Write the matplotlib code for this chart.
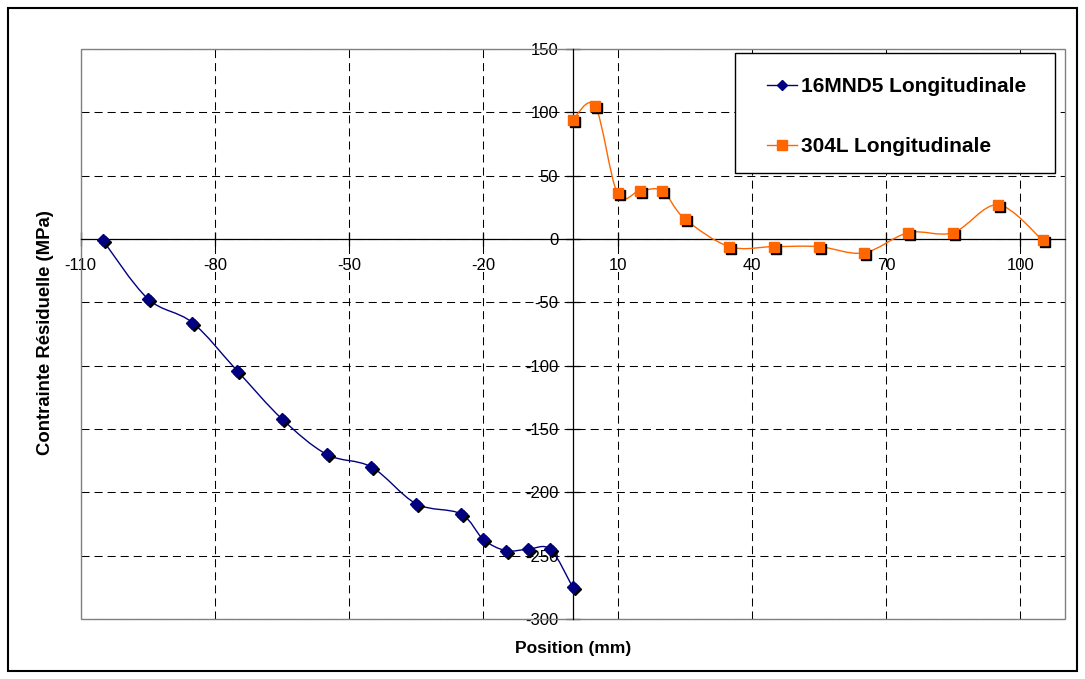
import numpy as np
import matplotlib
matplotlib.use('Agg')
import matplotlib.pyplot as plt
from matplotlib.path import Path
from matplotlib.patches import PathPatch, Rectangle
import matplotlib.transforms as mtransforms
from matplotlib.lines import Line2D

plt.rcParams['font.family'] = ['Liberation Sans', 'DejaVu Sans']
plt.rcParams['lines.scale_dashes'] = False
plt.rcParams['axes.unicode_minus'] = False

# ---- data ----
pos_16mnd5 = [-105, -95, -85, -75, -65, -55, -45, -35, -25, -20, -15, -10, -5, 0]
val_16mnd5 = [-1, -47, -66, -104, -142, -170, -180, -209, -217, -237, -246, -245, -245, -275]
pos_304l = [0, 5, 10, 15, 20, 25, 35, 45, 55, 65, 75, 85, 95, 105]
val_304l = [94, 105, 36, 38, 38, 16, -6, -6, -6, -11, 5, 5, 27, -1]
x_ticks = [-110, -80, -50, -20, 10, 40, 70, 100]
y_ticks = [-300, -250, -200, -150, -100, -50, 0, 50, 100, 150]
label_16 = '16MND5 Longitudinale'
label_304 = '304L Longitudinale'
col_16 = '#000080'
col_304 = '#FF6600'

W, H = 1085, 679


def smooth_path(x, y):
    """Excel-like smoothed line: cubic Bezier (Catmull-Rom) through the data."""
    pts = np.column_stack([x, y]).astype(float)
    n = len(pts)
    verts = [pts[0]]
    codes = [Path.MOVETO]
    for i in range(n - 1):
        p0 = pts[i - 1] if i > 0 else pts[i]
        p1 = pts[i]
        p2 = pts[i + 1]
        p3 = pts[i + 2] if i + 2 < n else pts[i + 1]
        c1 = p1 + (p2 - p0) / 6.0
        c2 = p2 - (p3 - p1) / 6.0
        verts += [c1, c2, p2]
        codes += [Path.CURVE4] * 3
    return Path(verts, codes)


def fx(px):
    return px / W


def fy(py):
    return 1 - py / H


fig = plt.figure(figsize=(W / 100, H / 100), dpi=100)
fig.patch.set_facecolor('white')
ax = fig.add_axes([fx(80.5), fy(619), (1065 - 80.5) / W, (619 - 49) / H])

ax.set_xlim(-110, 110)
ax.set_ylim(-300, 150)
ax.set_xticks(x_ticks)
ax.set_yticks(y_ticks)

# spines crossing at zero
for s in ['top', 'right']:
    ax.spines[s].set_visible(False)
ax.spines['left'].set_position(('data', 0))
ax.spines['bottom'].set_position(('data', 0))
for s in ['left', 'bottom']:
    ax.spines[s].set_color('#000000')
    ax.spines[s].set_linewidth(0.9)
    ax.spines[s].set_zorder(1.5)

ax.add_patch(Rectangle((0, 0), 1, 1, transform=ax.transAxes, fill=False,
                       edgecolor='#808080', lw=1.0, zorder=1.4, clip_on=False))

ax.tick_params(axis='both', direction='inout', length=10, width=0.9, color='#000000',
               labelsize=12)
ax.tick_params(axis='y', pad=5.5)
ax.tick_params(axis='x', pad=9)

ax.grid(True, color='#000000', lw=0.75, dashes=(5.8, 3.6), zorder=1)
ax.set_axisbelow(True)

# series
shadow = ax.transData + mtransforms.ScaledTranslation(2 / 100, -2 / 100, fig.dpi_scale_trans)

ax.add_patch(PathPatch(smooth_path(pos_16mnd5, val_16mnd5), fill=False,
                       edgecolor=col_16, lw=1.0, zorder=3))
ax.plot(pos_16mnd5, val_16mnd5, linestyle='none', marker='D', markersize=6,
        color='black', transform=shadow, zorder=3.5, clip_on=False)
ax.plot(pos_16mnd5, val_16mnd5, linestyle='none', marker='D', markersize=6,
        color=col_16, zorder=4, clip_on=False)

ax.add_patch(PathPatch(smooth_path(pos_304l, val_304l), fill=False,
                       edgecolor=col_304, lw=1.0, zorder=3))
ax.plot(pos_304l, val_304l, linestyle='none', marker='s', markersize=7,
        color='black', transform=shadow, zorder=3.5, clip_on=False)
ax.plot(pos_304l, val_304l, linestyle='none', marker='s', markersize=7,
        color=col_304, zorder=4, clip_on=False)

# legend (Excel-style box)
fig.add_artist(Rectangle((fx(735), fy(173)), (1055 - 735) / W, (173 - 53) / H,
                         transform=fig.transFigure, facecolor='white', edgecolor='black',
                         lw=1.0, zorder=5))
for ypx, col, mk, ms, lab in [(85, col_16, 'D', 5, label_16), (145, col_304, 's', 6.5, label_304)]:
    fig.add_artist(Line2D([fx(767), fx(797)], [fy(ypx), fy(ypx)], transform=fig.transFigure,
                          color=col, lw=1.0, zorder=6))
    fig.add_artist(Line2D([fx(782)], [fy(ypx)], transform=fig.transFigure, color=col,
                          marker=mk, markersize=ms, linestyle='none', zorder=6))
    fig.text(fx(801), fy(ypx), lab, ha='left', va='center_baseline', fontsize=15,
             fontweight='bold', zorder=6)

# axis titles
fig.text(fx(573), fy(648), 'Position (mm)', ha='center', va='center',
         fontsize=12.5, fontweight='bold')
fig.text(fx(46), fy(333), 'Contrainte Résiduelle (MPa)', ha='center', va='center',
         rotation=90, fontsize=13.3, fontweight='bold')

# outer chart border
fig.add_artist(Rectangle((fx(8), fy(671)), (1077 - 8) / W, (671 - 8) / H,
                         transform=fig.transFigure, fill=False, edgecolor='black', lw=1.5))

fig.savefig('out.png', dpi=100)
